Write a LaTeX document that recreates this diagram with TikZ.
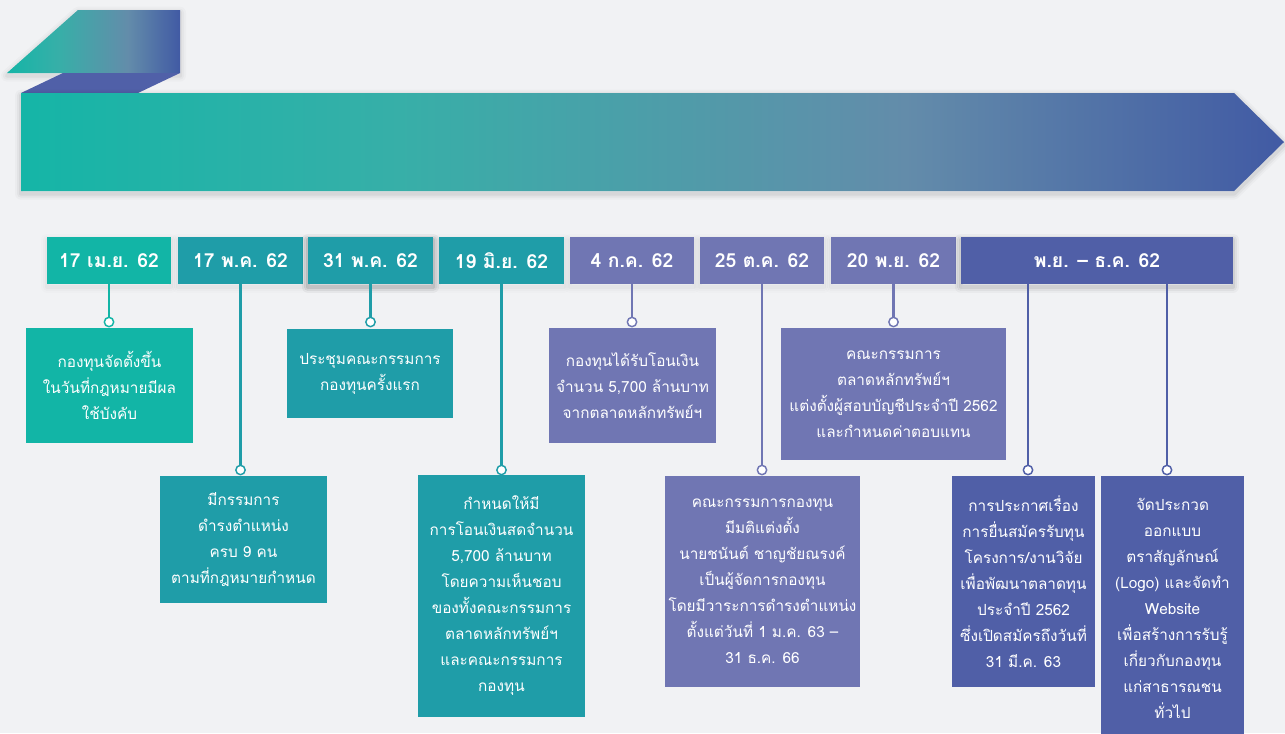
\documentclass[tikz,border=0pt]{standalone}
\usepackage{fontspec}
\setmainfont[Script=Thai]{Loma}
\definecolor{bgc}{HTML}{F1F2F4}
\definecolor{tealA}{HTML}{12B5A6}
\definecolor{tealB}{HTML}{1F9DA8}
\definecolor{purp}{HTML}{7076B3}
\definecolor{blu}{HTML}{505FA7}
\definecolor{bluedark}{HTML}{5060A8}
\pgfdeclarehorizontalshading{bannershade}{100bp}{rgb(0bp)=(0.082,0.710,0.655); rgb(25bp)=(0.082,0.710,0.655); rgb(40bp)=(0.216,0.686,0.659); rgb(60bp)=(0.388,0.549,0.667); rgb(75bp)=(0.255,0.353,0.643); rgb(100bp)=(0.255,0.353,0.643)}
\tikzset{
  softshadow/.style={
    preaction={draw=black, draw opacity=#1*0.5, line width=9pt, line join=round, transform canvas={yshift=-2pt}},
    preaction={draw=black, draw opacity=#1*0.7, line width=6pt, line join=round, transform canvas={yshift=-2pt}},
    preaction={draw=black, draw opacity=#1, line width=3pt, line join=round, transform canvas={yshift=-2pt}}},
  softshadow/.default=0.03,
  datebox/.style={minimum height=35.25pt, inner sep=0pt, text=white,
    font=\bfseries\fontsize{14.5}{17}\selectfont, softshadow=0.025},
  descbox/.style={inner sep=0pt, text=white, align=center,
    font=\fontsize{11.5}{19.5}\selectfont},
  pin/.style={circle, draw=#1, fill=white, line width=1.1pt, minimum size=7pt, inner sep=0pt},
  conn/.style={draw=#1, line width=1.6pt},
}
\begin{document}
\begin{tikzpicture}[x=0.75pt,y=-0.75pt]
\useasboundingbox (0,0) rectangle (1285,733);
\fill[bgc] (0,0) rectangle (1285,733);
% ribbon top parts
\shade[shading=bannershade, softshadow=0.04]
  (78,10) -- (180,10) -- (180,73) -- (7,73) -- cycle;
\fill[bluedark] (63,73) -- (180,73) -- (138,93) -- (21,93) -- cycle;
% banner
\shade[shading=bannershade, softshadow=0.05]
  (21,93) -- (1234,93) -- (1284,142) -- (1234,191) -- (21,191) -- cycle;
% date boxes
\node[datebox, fill=tealA, minimum width=93pt] (b1) at (109,260.5) {17 เม.ย. 62};
\node[datebox, fill=tealB, minimum width=93.75pt] (b2) at (240.5,260.5) {17 พ.ค. 62};
\node[datebox, fill=tealB, minimum width=93.75pt, softshadow=0.07] (b3) at (370.5,260.5) {31 พ.ค. 62};
\node[datebox, fill=tealB, minimum width=93.75pt] (b4) at (501.5,260.5) {19 มิ.ย. 62};
\node[datebox, fill=purp, minimum width=93pt] (b5) at (632,260.5) {4 ก.ค. 62};
\node[datebox, fill=purp, minimum width=93pt] (b6) at (762,260.5) {25 ต.ค. 62};
\node[datebox, fill=purp, minimum width=93.75pt] (b7) at (893.5,260.5) {20 พ.ย. 62};
\node[datebox, fill=blu, minimum width=204pt, softshadow=0.04] (b8) at (1097,260.5) {พ.ย. – ธ.ค. 62};
% description boxes
\node[descbox, fill=tealA, minimum width=125.25pt, minimum height=86.25pt] (d1) at (109.5,385.5) {กองทุนจัดตั้งขึ้น\\ในวันที่กฎหมายมีผล\\ใช้บังคับ};
\node[descbox, fill=tealB, minimum width=125.25pt, minimum height=95.25pt] (d2) at (243.5,539.5) {มีกรรมการ\\ดำรงตำแหน่ง\\ครบ 9 คน\\ตามที่กฎหมายกำหนด};
\node[descbox, fill=tealB, minimum width=124.5pt, minimum height=66.75pt] (d3) at (370,373.5) {ประชุมคณะกรรมการ\\กองทุนครั้งแรก};
\node[descbox, fill=tealB, minimum width=125.25pt, minimum height=181.5pt] (d4) at (501.5,596) {กำหนดให้มี\\การโอนเงินสดจำนวน\\5,700 ล้านบาท\\โดยความเห็นชอบ\\ของทั้งคณะกรรมการ\\ตลาดหลักทรัพย์ฯ\\และคณะกรรมการ\\กองทุน};
\node[descbox, fill=purp, minimum width=125.25pt, minimum height=86.25pt] (d5) at (632.5,385.5) {กองทุนได้รับโอนเงิน\\จำนวน 5,700 ล้านบาท\\จากตลาดหลักทรัพย์ฯ};
\node[descbox, fill=purp, minimum width=146.25pt, minimum height=158.25pt] (d6) at (762.5,581.5) {คณะกรรมการกองทุน\\มีมติแต่งตั้ง\\นายชนันต์ ชาญชัยณรงค์\\เป็นผู้จัดการกองทุน\\โดยมีวาระการดำรงตำแหน่ง\\ตั้งแต่วันที่ 1 ม.ค. 63 –\\31 ธ.ค. 66};
\node[descbox, fill=purp, minimum width=168.75pt, minimum height=99pt] (d7) at (893.5,394) {คณะกรรมการ\\ตลาดหลักทรัพย์ฯ\\แต่งตั้งผู้สอบบัญชีประจำปี 2562\\และกำหนดค่าตอบแทน};
\node[descbox, fill=blu, minimum width=107.25pt, minimum height=158.25pt] (d8a) at (1023.5,581.5) {การประกาศเรื่อง\\การยื่นสมัครรับทุน\\โครงการ/งานวิจัย\\เพื่อพัฒนาตลาดทุน\\ประจำปี 2562\\ซึ่งเปิดสมัครถึงวันที่\\31 มี.ค. 63};
\node[descbox, fill=blu, minimum width=107.25pt, minimum height=198pt] (d8b) at (1172.5,608) {จัดประกวด\\ออกแบบ\\ตราสัญลักษณ์\\(Logo) และจัดทำ\\Website\\เพื่อสร้างการรับรู้\\เกี่ยวกับกองทุน\\แก่สาธารณชน\\ทั่วไป};
% pins
\node[pin=tealA] (c1) at (109,322) {};
\node[pin=tealB] (c2) at (240.5,470) {};
\node[pin=tealB] (c3) at (370.5,322) {};
\node[pin=tealB] (c4) at (501.5,470) {};
\node[pin=purp] (c5) at (632,322) {};
\node[pin=purp] (c6) at (762,470) {};
\node[pin=purp] (c7) at (893.5,322) {};
\node[pin=blu] (c8a) at (1028,470) {};
\node[pin=blu] (c8b) at (1167,470) {};
% connectors
\draw[conn=tealA] (b1.south) -- (c1);
\draw[conn=tealB] (b2.south) -- (c2);
\draw[conn=tealB] (b3.south) -- (c3);
\draw[conn=tealB] (b4.south) -- (c4);
\draw[conn=purp] (b5.south) -- (c5);
\draw[conn=purp] (b6.south) -- (c6);
\draw[conn=purp] (b7.south) -- (c7);
\draw[conn=blu] (c8a |- b8.south) -- (c8a);
\draw[conn=blu] (c8b |- b8.south) -- (c8b);
\end{tikzpicture}
\end{document}
